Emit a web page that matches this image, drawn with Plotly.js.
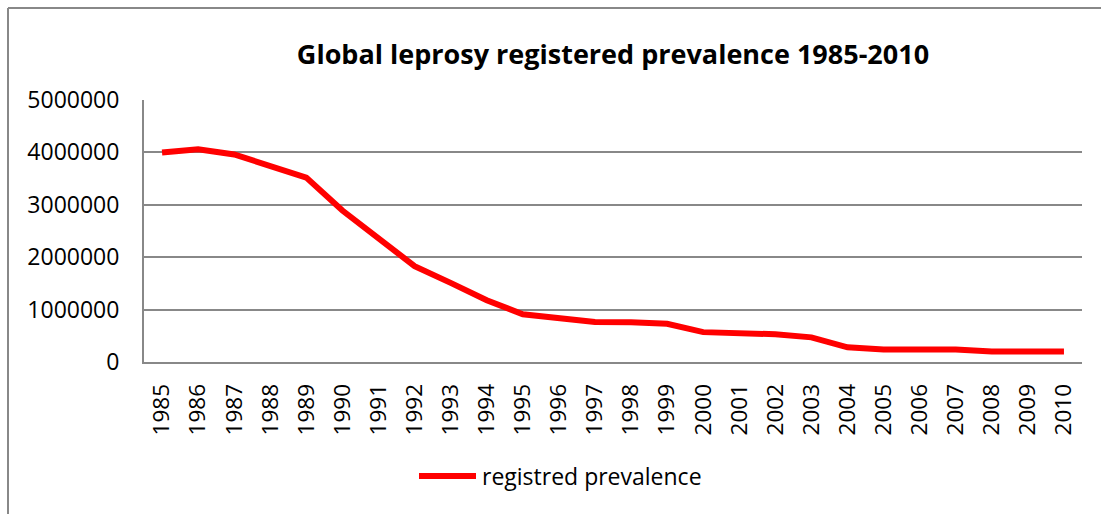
<!DOCTYPE html>
<html>
<head>
<meta charset="utf-8">
<script src="https://cdn.plot.ly/plotly-3.0.1.min.js"></script>
<style>
html,body{margin:0;padding:0;background:#fff;}
#chart{width:1101px;height:514px;}
</style>
</head>
<body>
<div id="chart"></div>
<script>
const years = ["1985","1986","1987","1988","1989","1990","1991","1992","1993","1994","1995","1996","1997","1998","1999","2000","2001","2002","2003","2004","2005","2006","2007","2008","2009","2010"];
const prevalence = [4000000,4060000,3960000,3740000,3520000,2890000,2350000,1830000,1510000,1180000,910000,840000,765000,760000,730000,570000,540000,530000,470000,280000,240000,240000,240000,200000,200000,200000];
const yTicks = [0,1000000,2000000,3000000,4000000,5000000];
const yTickText = ["0","1000000","2000000","3000000","4000000","5000000"];
const seriesName = "registred prevalence";
const chartTitle = "Global leprosy registered prevalence 1985-2010";

const FONT = "'Open Sans', Lato, sans-serif";
const W = 1101, H = 514;
const m = {l:144, r:19, t:100, b:152};
const pw = W - m.l - m.r, ph = H - m.t - m.b;

const trace = {
  x: years, y: prevalence, type: "scatter", mode: "lines", name: seriesName,
  line: {color: "#FF0000", width: 6}
};

const layout = {
  width: W, height: H,
  margin: m,
  paper_bgcolor: "#fff", plot_bgcolor: "#fff",
  font: {family: FONT, size: 23, color: "#000"},
  title: {text: "<b>" + chartTitle + "</b>", font: {family: FONT, size: 27, color: "#000"},
          x: (m.l + pw/2)/W, xanchor: "center", y: 1 - 55/H, yanchor: "middle"},
  xaxis: {type: "category", range: [-0.5, years.length - 0.5], tickangle: -90, showgrid: false,
          showline: true, linecolor: "#888", linewidth: 2, ticks: "", ticklabelstandoff: 11,
          tickfont: {family: FONT, size: 22.5}, zeroline: false, fixedrange: true},
  yaxis: {range: [0, 5000000], tickvals: yTicks, ticktext: yTickText, showgrid: true, gridcolor: "#888", gridwidth: 2,
          showline: true, linecolor: "#888", linewidth: 2, ticks: "", zeroline: false, ticklabelstandoff: 18,
          tickfont: {family: FONT, size: 23}, fixedrange: true},
  showlegend: true,
  legend: {orientation: "h", x: (414 - m.l)/pw, xanchor: "left", y: -(476 - m.t - ph)/ph, yanchor: "middle",
           font: {family: FONT, size: 23}, itemwidth: 58, bgcolor: "rgba(0,0,0,0)"},
  shapes: [
    {type: "line", xref: "paper", yref: "paper", x0: (8 - m.l)/pw, x1: (8 - m.l)/pw, y0: -(H + 20 - m.t - ph)/ph, y1: 1 + (m.t - 8)/ph,
     line: {color: "#888", width: 2}, layer: "below"},
    {type: "line", xref: "paper", yref: "paper", x0: (8 - m.l)/pw, x1: (W + 20 - m.l)/pw, y0: 1 + (m.t - 8)/ph, y1: 1 + (m.t - 8)/ph,
     line: {color: "#888", width: 2}, layer: "below"}
  ]
};

Plotly.newPlot("chart", [trace], layout, {displayModeBar: false, staticPlot: true}).then(function(gd){
  // lengthen the legend line sample to match the reference
  gd.querySelectorAll(".legend .legendlines path").forEach(function(p){ p.setAttribute("d", "M5,0h57"); });
});
</script>
</body>
</html>
